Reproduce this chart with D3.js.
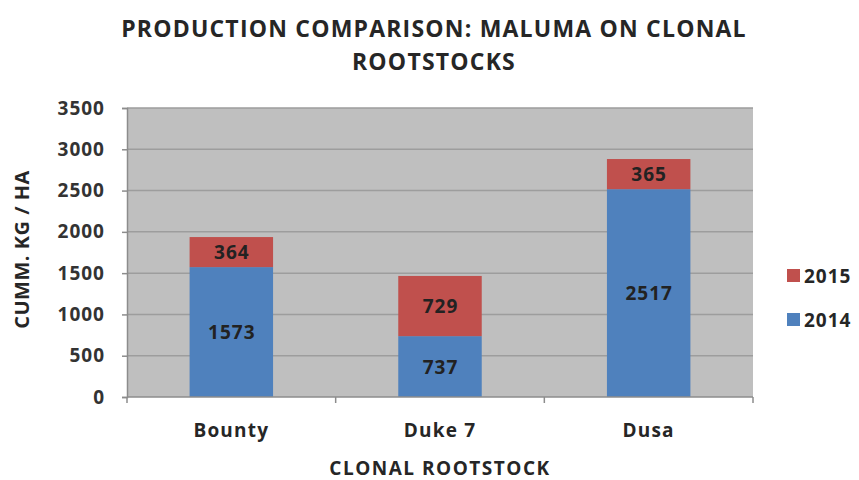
<!DOCTYPE html>
<html>
<head>
<meta charset="utf-8">
<script src="https://cdn.jsdelivr.net/npm/d3@7"></script>
<style>
  body { margin: 0; background: #fff; }
  text { font-family: "Open Sans", Lato, sans-serif; font-weight: bold; fill: #262626; }
</style>
</head>
<body>
<div id="chart"></div>
<script>
const categories = ["Bounty", "Duke 7", "Dusa"];
const seriesNames = ["2014", "2015"];
const values2014 = [1573, 737, 2517];
const values2015 = [364, 729, 365];
const yTicks = [0, 500, 1000, 1500, 2000, 2500, 3000, 3500];
const colors = { "2014": "#4f81bd", "2015": "#c0504d" };

const width = 859, height = 480;
const margin = { top: 108, right: 106, bottom: 83, left: 127 };
const plotW = width - margin.left - margin.right;
const plotH = height - margin.top - margin.bottom;

const svg = d3.select("#chart").append("svg")
    .attr("width", width)
    .attr("height", height);

const rows = categories.map((c, i) => ({ cat: c, "2014": values2014[i], "2015": values2015[i] }));
const stacked = d3.stack().keys(seriesNames)(rows);

const x = d3.scaleBand()
    .domain(categories)
    .range([0, plotW])
    .paddingInner(0.6)
    .paddingOuter(0.3);

const y = d3.scaleLinear()
    .domain([0, 3500])
    .range([plotH, 0]);

const g = svg.append("g")
    .attr("transform", `translate(${margin.left},${margin.top})`);

// plot background
g.append("rect")
    .attr("width", plotW)
    .attr("height", plotH)
    .attr("fill", "#bfbfbf");

// gridlines
g.selectAll("line.grid")
    .data(yTicks.filter(t => t > 0))
    .join("line")
    .attr("class", "grid")
    .attr("x1", 0)
    .attr("x2", plotW)
    .attr("y1", d => y(d))
    .attr("y2", d => y(d))
    .attr("stroke", "#9d9d9d")
    .attr("stroke-width", 1.5);

// bars
const layers = g.selectAll("g.layer")
    .data(stacked)
    .join("g")
    .attr("class", "layer")
    .attr("fill", d => colors[d.key]);

layers.selectAll("rect")
    .data(d => d.map(s => ({ key: d.key, s })))
    .join("rect")
    .attr("x", d => x(d.s.data.cat))
    .attr("width", x.bandwidth())
    .attr("y", d => y(d.s[1]))
    .attr("height", d => y(d.s[0]) - y(d.s[1]));

// data labels
layers.selectAll("text")
    .data(d => d.map(s => ({ key: d.key, s })))
    .join("text")
    .attr("x", d => x(d.s.data.cat) + x.bandwidth() / 2 + 0.5)
    .attr("y", d => (y(d.s[0]) + y(d.s[1])) / 2)
    .attr("text-anchor", "middle")
    .attr("dominant-baseline", "central")
    .style("font-size", "19px")
    .style("letter-spacing", "1px")
    .style("fill", "#222")
    .text(d => d.s[1] - d.s[0]);

// y axis
const yAxis = g.append("g")
    .call(d3.axisLeft(y).tickValues(yTicks).tickFormat(d3.format("d")).tickSize(5).tickPadding(17));
yAxis.select(".domain").attr("stroke", "#8c8c8c").attr("stroke-width", 1.5);
yAxis.selectAll(".tick line").attr("stroke", "#8c8c8c").attr("stroke-width", 1.5);
yAxis.selectAll(".tick text").style("font-size", "19px").style("letter-spacing", "1px").style("fill", "#333");

// x axis with ticks at category boundaries
const xAxis = g.append("g").attr("transform", `translate(0,${plotH})`);
xAxis.append("line")
    .attr("x1", 0).attr("x2", plotW)
    .attr("stroke", "#8c8c8c").attr("stroke-width", 1.5);
const bounds = d3.range(categories.length + 1).map(i => i * x.step());
xAxis.selectAll("line.tick")
    .data(bounds)
    .join("line")
    .attr("class", "tick")
    .attr("x1", d => d).attr("x2", d => d)
    .attr("y1", 0).attr("y2", 6)
    .attr("stroke", "#8c8c8c").attr("stroke-width", 1.5);
xAxis.selectAll("text")
    .data(categories)
    .join("text")
    .attr("x", d => x(d) + x.bandwidth() / 2)
    .attr("y", 40)
    .attr("text-anchor", "middle")
    .style("font-size", "19px")
    .style("letter-spacing", "1.2px")
    .text(d => d);

// axis titles
svg.append("text")
    .attr("x", margin.left + plotW / 2)
    .attr("y", 475)
    .attr("text-anchor", "middle")
    .style("font-size", "19px")
    .style("letter-spacing", "1.5px")
    .text("CLONAL ROOTSTOCK");

svg.append("text")
    .attr("transform", `translate(29,${margin.top + plotH / 2 - 3}) rotate(-90)`)
    .attr("text-anchor", "middle")
    .style("font-size", "20px")
    .style("letter-spacing", "0.5px")
    .text("CUMM. KG / HA");

// title
const title = svg.append("text")
    .attr("x", 434)
    .attr("text-anchor", "middle")
    .style("font-size", "23px")
    .style("letter-spacing", "1.2px");
title.append("tspan").attr("x", 434).attr("y", 37).text("PRODUCTION COMPARISON: MALUMA ON CLONAL");
title.append("tspan").attr("x", 434).attr("y", 70).text("ROOTSTOCKS");

// legend (2015 on top)
const legend = svg.append("g").attr("transform", "translate(787,269)");
const legendItems = legend.selectAll("g")
    .data(seriesNames.slice().reverse())
    .join("g")
    .attr("transform", (d, i) => `translate(0,${i * 44})`);
legendItems.append("rect")
    .attr("width", 13).attr("height", 13)
    .attr("fill", d => colors[d]);
legendItems.append("text")
    .attr("x", 17).attr("y", 7)
    .attr("dominant-baseline", "central")
    .style("font-size", "19px")
    .style("letter-spacing", "1px")
    .text(d => d);
</script>
</body>
</html>
